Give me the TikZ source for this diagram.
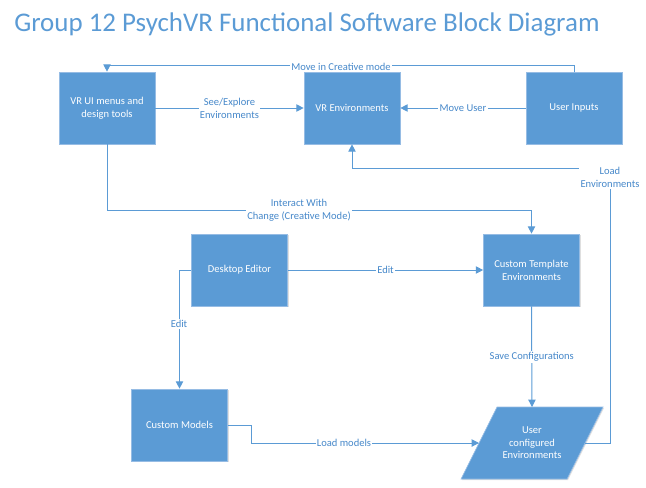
\documentclass[tikz,border=0pt]{standalone}
\usepackage{fontspec}
\setmainfont{Carlito}
\usetikzlibrary{arrows.meta,shadows}
\definecolor{psyBlue}{RGB}{91,155,213}
\definecolor{psyEdge}{RGB}{150,188,228}
\definecolor{psyText}{RGB}{70,136,202}

\begin{document}
\begin{tikzpicture}[x=0.75pt,y=-0.75pt,
        shade/.style={drop shadow={shadow xshift=0.8pt,shadow yshift=-0.8pt,opacity=0.25,fill=black!50}},
        block/.style={draw=psyEdge,line width=0.5pt,fill=psyBlue,text=white,
            minimum width=72pt,minimum height=54pt,inner sep=1pt,align=center,
            font=\fontsize{7.9}{9.7}\selectfont,shade},
        conn/.style={draw=psyBlue,line width=0.75pt,-{Triangle[width=5.5pt,length=5.5pt]}},
        lbl/.style={fill=white,text=psyText,inner sep=1pt,align=center,
            font=\fontsize{7.9}{9.7}\selectfont}]
        \useasboundingbox (0,0) rectangle (646,487);
        % title
        \node[anchor=base west,text=psyBlue,inner sep=0pt,font=\fontsize{20.2}{24}\selectfont] (title) at (14,31)
            {Group 12 PsychVR Functional Software Block Diagram};

        % blocks
        \node[block] (vrui) at (107,108) {VR UI menus and\\design tools};
        \node[block] (vrenv) at (352,108) {VR Environments};
        \node[block] (input) at (574,108) {User Inputs};
        \node[block] (desk) at (239.5,270) {Desktop Editor};
        \node[block] (tmpl) at (531.5,270) {Custom Template\\Environments};
        \node[block] (models) at (179.5,425) {Custom Models};
        % user configured environments (parallelogram)
        \filldraw[fill=psyBlue,draw=psyEdge,line width=0.5pt,shade]
            (461,479) -- (497,407) -- (603,407) -- (567,479) -- cycle;
        \coordinate (cfgW) at (479,443);
        \coordinate (cfgE) at (585,443);
        \coordinate (cfgN) at (532,407);
        \node[text=white,align=center,font=\fontsize{7.9}{9.4}\selectfont] (usercfg) at (532,443)
            {User\\configured\\Environments};

        % connectors
        \draw[conn] (input.north) -- ++(0,-6) -| (vrui.north);
        \node[lbl] (lmove) at (341,67) {Move in Creative mode};
        \draw[conn] (vrui) -- (vrenv) node[lbl,midway] (lsee) {See/Explore\\Environments};
        \draw[conn] (input) -- (vrenv) node[lbl,midway] (luser) {Move User};
        \draw[conn] (cfgE) -| (610,168) -| (vrenv.south);
        \node[lbl] (lload) at (610,177.5) {Load\\Environments};
        \draw[conn] (vrui.south) -- (107,210) -| (tmpl.north);
        \node[lbl] (linter) at (299,210.5) {Interact With\\Change (Creative Mode)};
        \draw[conn] (desk) -- (tmpl) node[lbl,midway] (ledit) {Edit};
        \draw[conn] (desk.west) -| (models.north);
        \node[lbl] (ledit2) at (179,324) {Edit};
        \draw[conn] (models.east) -| (251,443) -- (cfgW);
        \node[lbl] (lmodels) at (344,443) {Load models};
        \draw[conn] (tmpl.south) -- (cfgN) node[lbl,midway] (lsave) {Save Configurations};
    \end{tikzpicture}
\end{document}
